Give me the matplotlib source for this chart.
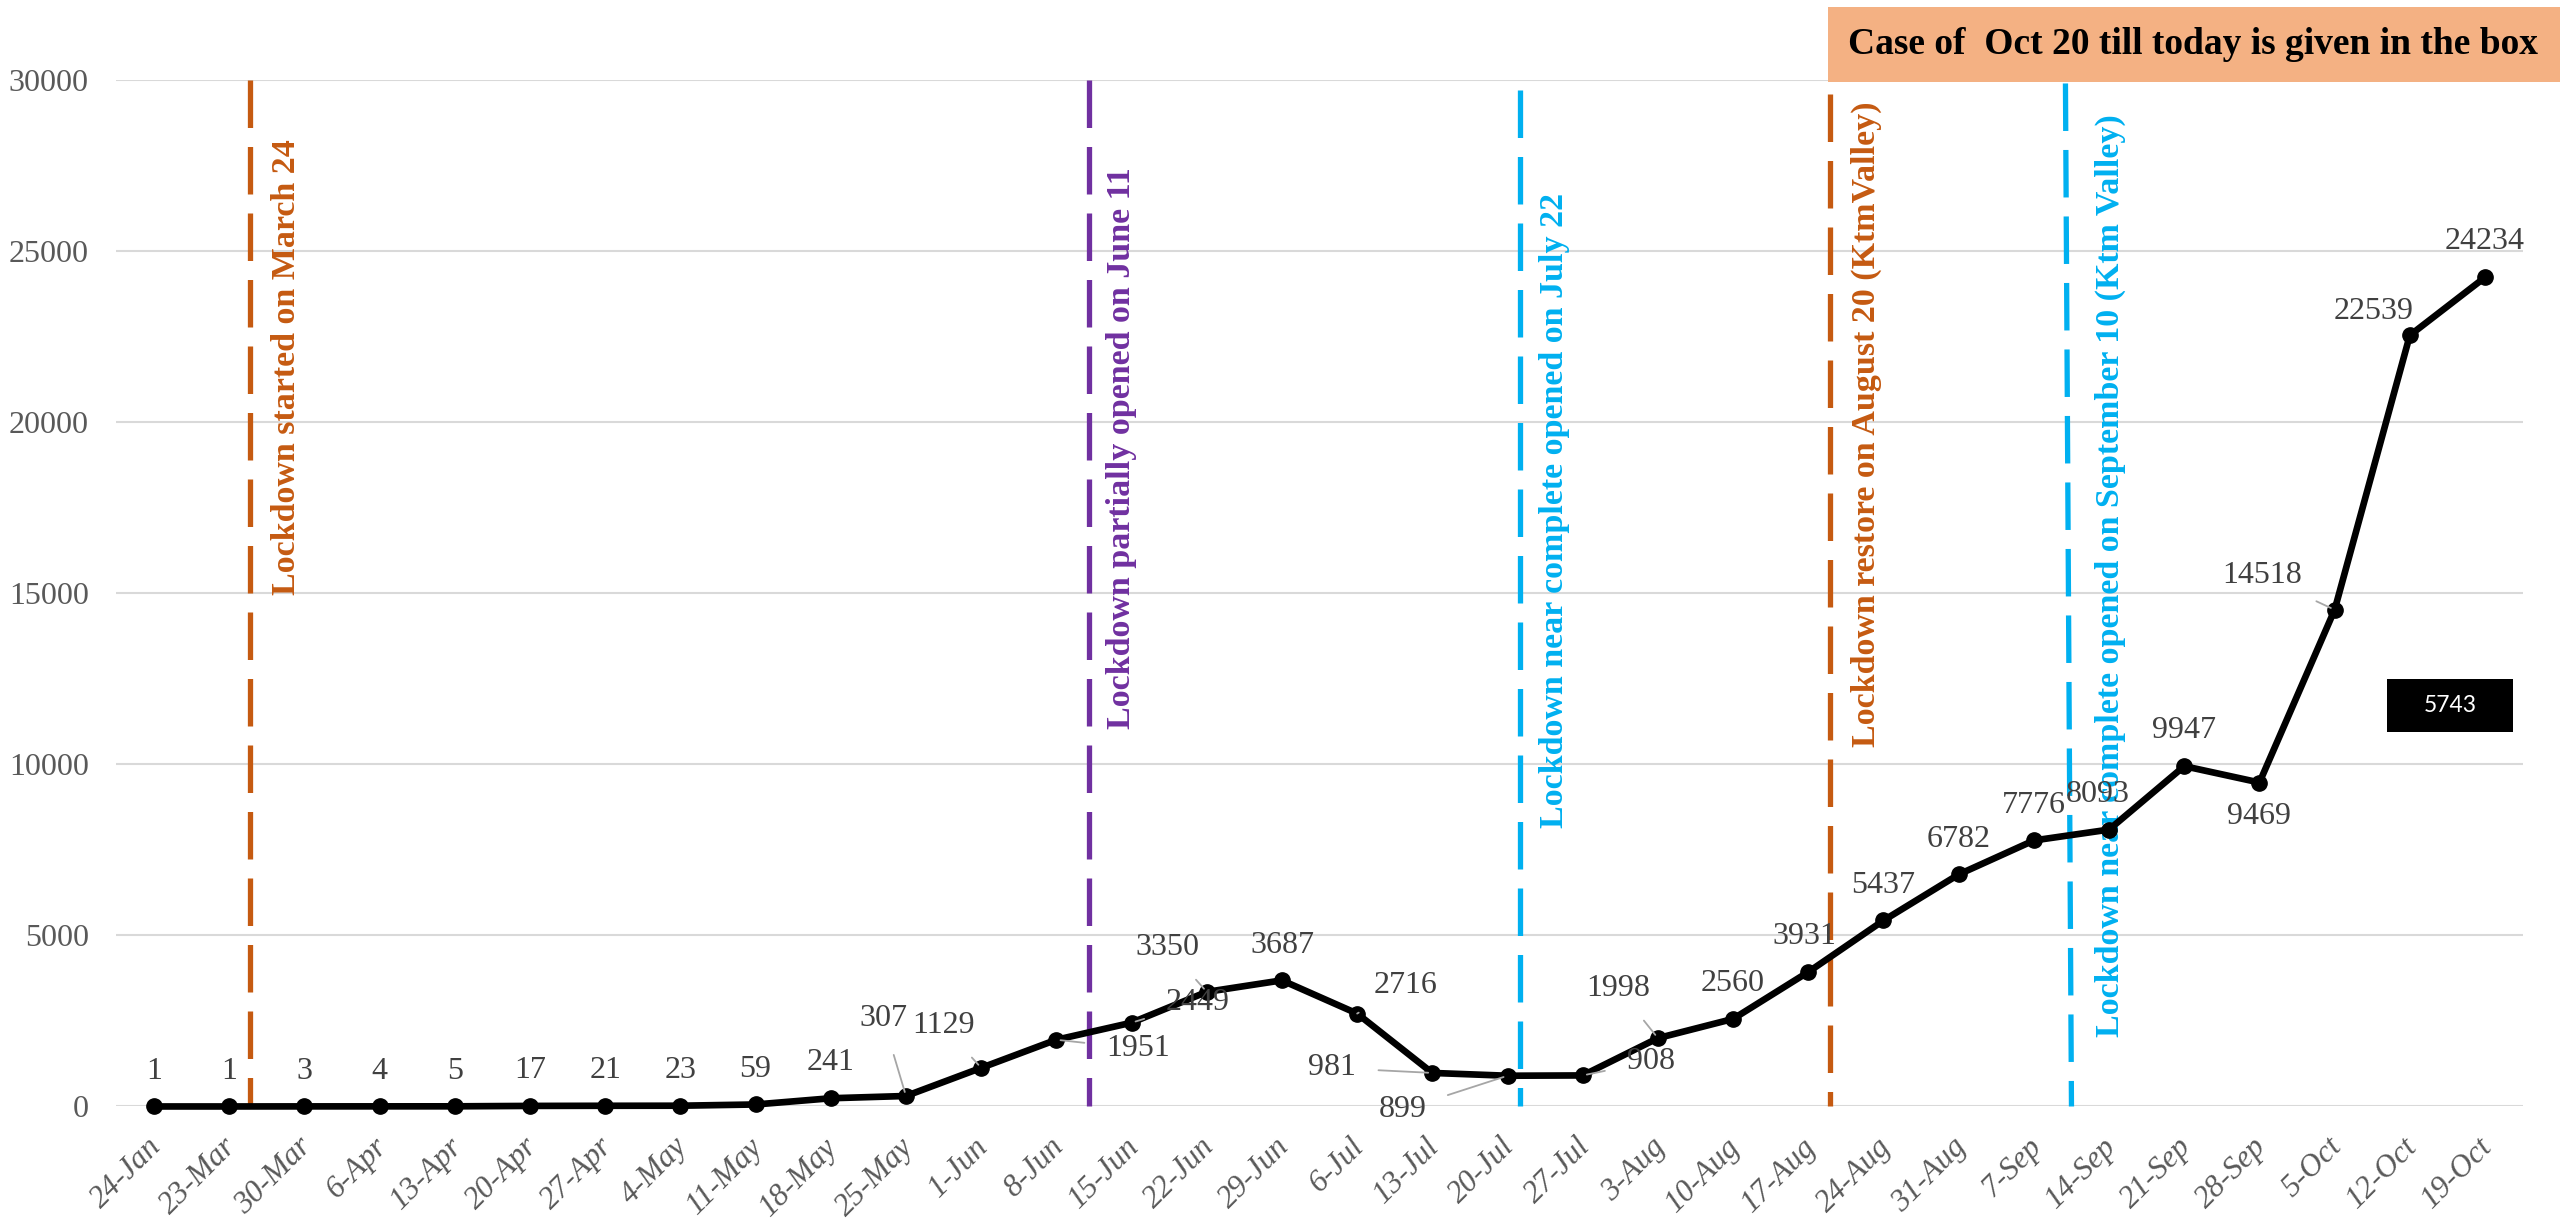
import matplotlib
matplotlib.use("Agg")
import matplotlib.pyplot as plt
import matplotlib.transforms as mtransforms
from matplotlib.patches import Rectangle

# ---------------- data ----------------
categories = ["24-Jan", "23-Mar", "30-Mar", "6-Apr", "13-Apr", "20-Apr", "27-Apr", "4-May",
              "11-May", "18-May", "25-May", "1-Jun", "8-Jun", "15-Jun", "22-Jun", "29-Jun",
              "6-Jul", "13-Jul", "20-Jul", "27-Jul", "3-Aug", "10-Aug", "17-Aug", "24-Aug",
              "31-Aug", "7-Sep", "14-Sep", "21-Sep", "28-Sep", "5-Oct", "12-Oct", "19-Oct"]
cases = [1, 1, 3, 4, 5, 17, 21, 23, 59, 241, 307, 1129, 1951, 2449, 3350, 3687,
         2716, 981, 899, 908, 1998, 2560, 3931, 5437, 6782, 7776, 8093, 9947,
         9469, 14518, 22539, 24234]
y_ticks = [0, 5000, 10000, 15000, 20000, 25000, 30000]

event_texts = ["Lockdown started on March 24",
               "Lockdown partially opened on June 11",
               "Lockdown near complete opened on July 22",
               "Lockdown restore on August 20 (KtmValley)",
               "Lockdown near complete opened on September 10 (Ktm Valley)"]
box_title = "Case of  Oct 20 till today is given in the box"
box_value = "5743"

# ---------------- styling / positions ----------------
event_line_x = [1.28, 12.43, 18.17, 22.29, (25.42, 25.50)]
event_line_top = [30000, 30000, 29700, 29600, 29900]
event_text_x = [1.755, 12.87, 18.62, 22.77, 26.02]
event_text_top = [28275, 27457, 26697, 29386, 29006]
event_colors = ["#C55A11", "#7030A0", "#00B0F0", "#C55A11", "#00B0F0"]

# label offsets in pixels (dx, dy), and whether a leader line is drawn
label_offsets = [(0, 35), (0, 35), (0, 35), (0, 35), (0, 35), (0, 35), (0, 35), (0, 35),
                 (0, 35), (0, 36), (-23, 77), (-38, 42), (82, -9), (66, 20), (-39, 44), (0, 35),
                 (48, 28), (-100, 5), (-105, -34), (68, 14), (-40, 50), (0, 35), (-4, 35), (0, 35),
                 (0, 35), (0, 35), (-11, 35), (0, 36), (0, -34), (-73, 34), (-36, 24), (0, 36)]
leaders = {10, 11, 12, 13, 14, 16, 17, 18, 19, 20, 29}

SERIF = "Liberation Serif"

fig = plt.figure(figsize=(25.6, 12.24), dpi=100)
fig.patch.set_facecolor("white")
ax = fig.add_axes([0.0455, 0.096, 0.9399, 0.8386])
ax.set_facecolor("white")

x = list(range(len(categories)))
ax.set_xlim(-0.5, len(categories) - 0.5)
ax.set_ylim(0, 30000)

for s in ax.spines.values():
    s.set_visible(False)

ax.set_yticks(y_ticks)
ax.set_yticklabels([str(v) for v in y_ticks], fontfamily=SERIF, fontsize=23, color="#595959")
ax.yaxis.grid(True, color="#D9D9D9", linewidth=1.5, zorder=0)
ax.set_axisbelow(True)
ax.tick_params(axis="y", length=0, pad=20)

ax.set_xticks(x)
ax.set_xticklabels(categories, fontfamily=SERIF, fontstyle="italic", fontsize=22.5,
                   color="#595959", rotation=45, ha="right", va="center",
                   rotation_mode="anchor")
ax.tick_params(axis="x", length=0, pad=26)
offset = mtransforms.ScaledTranslation(3 / 100, 0, fig.dpi_scale_trans)
for lbl in ax.get_xticklabels():
    lbl.set_transform(lbl.get_transform() + offset)

# event lines
for i in range(len(event_texts)):
    lx = event_line_x[i]
    if isinstance(lx, tuple):
        xs = [lx[0], lx[1]]
    else:
        xs = [lx, lx]
    ax.plot(xs, [event_line_top[i], 0], color=event_colors[i], linewidth=3.8,
            dashes=(9.0, 3.6), solid_capstyle="butt", dash_capstyle="butt", zorder=2,
            clip_on=False)
    ax.text(event_text_x[i], event_text_top[i], event_texts[i], rotation=90,
            ha="center", va="top", fontfamily=SERIF, fontweight="bold",
            fontsize=24.5, color=event_colors[i], zorder=3)

# main series
ax.plot(x, cases, color="black", linewidth=4.8, marker="o", markersize=11,
        markerfacecolor="black", markeredgecolor="black", zorder=4, clip_on=False)

# data labels
for i, v in enumerate(cases):
    dx, dy = label_offsets[i]
    if i in leaders:
        ax.annotate(str(v), xy=(i, v), xytext=(dx, dy), textcoords="offset pixels",
                    ha="center", va="center", fontfamily=SERIF, fontsize=23,
                    color="#404040", zorder=5,
                    arrowprops=dict(arrowstyle="-", color="#A6A6A6", linewidth=1.3,
                                    shrinkA=14, shrinkB=3))
    else:
        ax.annotate(str(v), xy=(i, v), xytext=(dx, dy), textcoords="offset pixels",
                    ha="center", va="center", fontfamily=SERIF, fontsize=23,
                    color="#404040", zorder=5)

# title box (top right)
fig.patches.append(Rectangle((0.714, 0.933), 0.290, 0.0613, transform=fig.transFigure,
                             facecolor="#F4B183", edgecolor="none", zorder=10))
fig.text(0.8566, 0.9636, box_title, ha="center", va="center", fontfamily=SERIF,
         fontweight="bold", fontsize=27, color="black", zorder=11)

# black value box
fig.patches.append(Rectangle((0.9324, 0.402), 0.0492, 0.0433, transform=fig.transFigure,
                             facecolor="black", edgecolor="none", zorder=10))
fig.text(0.9570, 0.4236, box_value, ha="center", va="center", fontfamily="Lato",
         fontsize=16.5, color="white", zorder=11)

fig.savefig("out.png", dpi=100, facecolor="white")
